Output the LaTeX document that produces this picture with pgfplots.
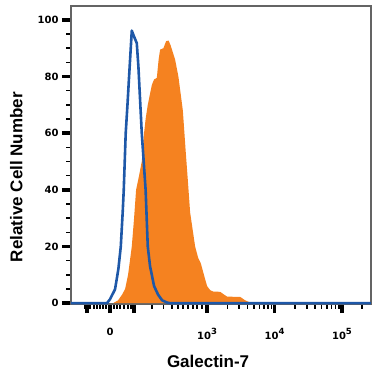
\documentclass[border=0pt]{standalone}
\usepackage{fontspec}
\setmainfont{Liberation Sans}
\newfontfamily\tickfont{DejaVu Sans}
\usepackage{pgfplots}
\pgfplotsset{compat=1.18}
\definecolor{fillorange}{RGB}{245,130,32}
\definecolor{lineblue}{RGB}{30,88,168}
\definecolor{framegray}{RGB}{100,100,100}
\newcommand{\expo}[1]{\raisebox{0.8ex}{\fontsize{8.5}{9}\selectfont #1}}
\begin{document}
\begin{tikzpicture}
\begin{axis}[
  scale only axis,
  width=300pt, height=298pt,
  xmin=-0.579, xmax=3.868,
  ymin=-0.3, ymax=104.9,
  axis line style={draw=framegray, line width=1.6pt},
  tick pos=left,
  tick align=outside,
  major tick length=9pt,
  minor tick length=4.5pt,
  every major tick/.append style={line width=3.5pt, black},
  every minor tick/.append style={line width=1.6pt, black},
  xminorticks=true, yminorticks=true,
  ytick={0,20,40,60,80,100},
  minor ytick={5,10,15,25,30,35,45,50,55,65,70,75,85,90,95,105},
  xtick={-0.341,0,0.356,1.438,2.438,3.438},
  xticklabels={,0,,10\expo{3},10\expo{4},10\expo{5}},
  minor xtick={-0.371,-0.297,-0.237,-0.193,-0.148,-0.104,-0.059,0.059,0.104,0.148,0.208,0.267,0.312,0.619,0.791,0.915,1.009,1.083,1.157,1.231,1.291,1.360,1.739,1.915,2.040,2.137,2.216,2.283,2.341,2.392,2.739,2.915,3.040,3.137,3.216,3.283,3.341,3.392,3.739},
  /pgf/number format/assume math mode=true,
  ticklabel style={font=\tickfont\bfseries\fontsize{10}{11}\selectfont},
  xticklabel style={yshift=-12pt},
  xlabel={Galectin-7},
  ylabel={Relative Cell Number},
  label style={font=\bfseries\fontsize{17}{18}\selectfont},
  xlabel style={at={(axis description cs:0.457,0)}, anchor=north, yshift=-48pt},
  ylabel style={at={(axis description cs:0,0.426)}, anchor=south, yshift=45pt},
]
\addplot[fill=fillorange, draw=none] coordinates {
(0.045,0) (0.119,1) (0.178,3) (0.223,5) (0.267,10) (0.322,20) (0.356,30)
(0.386,40) (0.430,45) (0.470,50) (0.504,60) (0.527,65) (0.559,70) (0.619,77)
(0.653,79) (0.693,79.5) (0.720,86) (0.742,89.5) (0.791,90) (0.831,92.5)
(0.868,92.7) (0.898,91) (0.964,86) (1.013,80) (1.079,68) (1.120,54)
(1.157,42) (1.187,32) (1.261,20) (1.306,16) (1.346,14) (1.380,11)
(1.409,8.5) (1.439,6) (1.484,4.6) (1.528,4.1) (1.632,4.0) (1.691,3.0)
(1.736,2.3) (1.929,2.2) (2.003,1.0) (2.077,0.2) (2.151,0)
} \closedcycle;
\addplot[lineblue, line width=2.6pt, line join=round] coordinates {
(-0.579,0) (-0.045,0) (0,1.4) (0.074,4.9) (0.123,12) (0.159,20) (0.187,32)
(0.203,40) (0.232,60) (0.258,70) (0.282,80) (0.322,96.2) (0.349,94.5)
(0.396,91.8) (0.420,83.6) (0.470,60) (0.527,40) (0.559,20) (0.593,13)
(0.619,10) (0.653,6) (0.712,3) (0.772,1) (0.846,0.2) (0.890,0) (3.868,0)
};
\end{axis}
\path[use as bounding box] ([shift={(-71pt,-71pt)}]current axis.south west) rectangle ([shift={(4pt,6pt)}]current axis.north east);
\end{tikzpicture}
\end{document}
